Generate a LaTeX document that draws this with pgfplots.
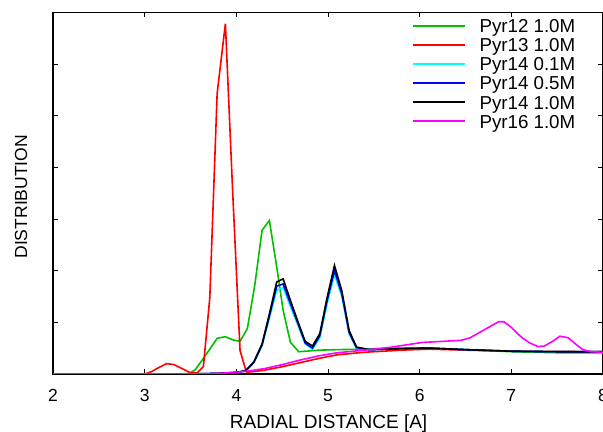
\documentclass[border=0pt]{standalone}
\usepackage{pgfplots}
\pgfplotsset{compat=1.18}
\usepackage{fontspec}
\setmainfont{Liberation Sans}
\definecolor{gpgreen}{RGB}{0,192,0}
\definecolor{gpred}{RGB}{255,0,0}
\definecolor{gpcyan}{RGB}{0,255,255}
\definecolor{gpblue}{RGB}{0,0,255}
\definecolor{gpblack}{RGB}{0,0,0}
\definecolor{gpmagenta}{RGB}{255,0,255}
\begin{document}
\begin{tikzpicture}
\begin{axis}[
  scale only axis, width=549pt, height=361pt,
  xmin=2, xmax=8, ymin=0, ymax=7,
  xtick={2,3,4,5,6,7,8}, ytick={0,1,2,3,4,5,6,7}, yticklabels={},
  tick align=inside, major tick length=5pt,
  every tick/.style={black, line width=0.9pt},
  axis line style={line width=1.3pt},
  /pgf/number format/assume math mode=true,
  xticklabel style={font=\fontsize{17.5}{20}\selectfont, anchor=base, yshift=-27.4pt, inner sep=0pt},
  xlabel={RADIAL DISTANCE [A]},
  ylabel={DISTRIBUTION},
  every axis x label/.style={at={(axis description cs:0.501,-0.1496)}, anchor=base, font=\fontsize{19}{22}\selectfont},
  every axis y label/.style={at={(axis description cs:-0.0583,0.49)}, anchor=center, rotate=90, font=\fontsize{17.5}{20}\selectfont},
  legend style={draw=none, fill=none, at={(axis description cs:0.6534,0.98)}, anchor=north west,
    inner sep=0pt, outer sep=0pt, row sep=5.7pt, column sep=13.7pt,
    font=\fontsize{18.7}{22}\selectfont,
    nodes={inner sep=0pt, text height=13.3pt, text depth=0pt}},
  legend cell align=left,
  legend image code/.code={\draw[#1, line width=2pt] (0pt,0pt) -- (51.3pt,0pt);},
  every axis plot/.append style={line width=1.6pt},
]
\addplot[gpgreen] coordinates {
(2,0) (3.4,0) (3.49,0.01) (3.55,0.08) (3.62,0.25) (3.71,0.48) (3.79,0.69) (3.88,0.72) (3.96,0.66) (4.04,0.63) (4.12,0.88) (4.2,1.71) (4.28,2.78) (4.36,2.97) (4.44,2.07) (4.51,1.23) (4.59,0.61) (4.68,0.43) (4.76,0.44) (4.9,0.46) (5.1,0.47) (5.4,0.48) (5.8,0.5) (6.1,0.5) (6.5,0.47) (7.0,0.43) (7.5,0.41) (8,0.41)
};
\addlegendentry{Pyr12 1.0M}
\addplot[gpred] coordinates {
(2,0) (3.0,0) (3.07,0.04) (3.15,0.12) (3.24,0.2) (3.32,0.18) (3.4,0.11) (3.49,0.03) (3.57,0.02) (3.64,0.14) (3.71,1.48) (3.79,5.43) (3.88,6.78) (3.96,3.5) (4.04,0.45) (4.11,0.03) (4.3,0.07) (4.5,0.14) (4.7,0.22) (4.9,0.3) (5.1,0.37) (5.4,0.42) (5.8,0.46) (6.1,0.48) (6.5,0.46) (7,0.44) (8,0.43)
};
\addlegendentry{Pyr13 1.0M}
\addplot[gpcyan] coordinates {
(2,0) (3.5,0) (3.8,0.01) (4.0,0.03) (4.1,0.06) (4.19,0.22) (4.28,0.55) (4.36,1.08) (4.44,1.62) (4.51,1.67) (4.59,1.3) (4.68,0.9) (4.75,0.58) (4.83,0.48) (4.91,0.7) (4.99,1.36) (5.07,1.92) (5.15,1.5) (5.23,0.78) (5.31,0.5) (5.45,0.47) (5.8,0.49) (6.1,0.5) (6.5,0.47) (7,0.44) (7.5,0.43) (8,0.43)
};
\addlegendentry{Pyr14 0.1M}
\addplot[gpblue] coordinates {
(2,0) (3.5,0) (3.8,0.01) (4.0,0.03) (4.1,0.06) (4.19,0.22) (4.28,0.56) (4.36,1.12) (4.44,1.70) (4.51,1.74) (4.59,1.36) (4.68,0.94) (4.75,0.6) (4.83,0.5) (4.91,0.74) (4.99,1.42) (5.07,2.0) (5.15,1.55) (5.23,0.8) (5.31,0.51) (5.45,0.47) (5.8,0.49) (6.1,0.5) (6.5,0.47) (7,0.44) (7.5,0.43) (8,0.43)
};
\addlegendentry{Pyr14 0.5M}
\addplot[gpblack] coordinates {
(2,0) (3.5,0) (3.8,0.01) (4.0,0.03) (4.1,0.06) (4.19,0.23) (4.28,0.58) (4.36,1.16) (4.44,1.78) (4.51,1.84) (4.59,1.42) (4.68,0.97) (4.75,0.63) (4.83,0.54) (4.91,0.78) (4.99,1.48) (5.07,2.10) (5.15,1.61) (5.23,0.84) (5.31,0.52) (5.45,0.47) (5.8,0.49) (6.1,0.5) (6.5,0.47) (7,0.44) (7.5,0.43) (8,0.43)
};
\addlegendentry{Pyr14 1.0M}
\addplot[gpmagenta] coordinates {
(2,0) (3.6,0) (3.8,0.01) (4.0,0.03) (4.1,0.05) (4.3,0.1) (4.5,0.18) (4.7,0.27) (4.9,0.35) (5.1,0.41) (5.4,0.46) (5.7,0.52) (6.03,0.61) (6.25,0.63) (6.45,0.65) (6.55,0.7) (6.64,0.79) (6.75,0.9) (6.86,1.01) (6.92,1.01) (7.0,0.9) (7.11,0.71) (7.2,0.6) (7.29,0.53) (7.36,0.54) (7.45,0.63) (7.53,0.73) (7.62,0.70) (7.7,0.58) (7.78,0.47) (7.87,0.43) (8,0.42)
};
\addlegendentry{Pyr16 1.0M}
\end{axis}
\pgfresetboundingbox
\path[use as bounding box] (-53pt,-57.7pt) rectangle (549pt,373.3pt);
\end{tikzpicture}
\end{document}
